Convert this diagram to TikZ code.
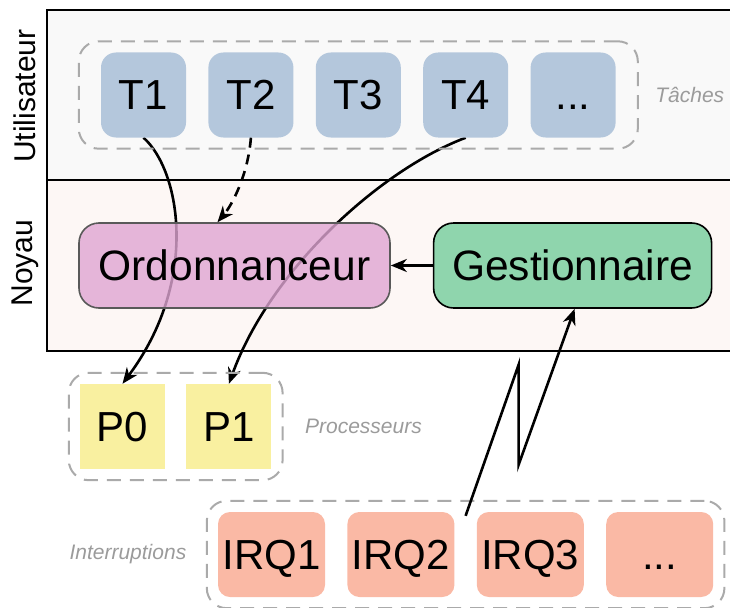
\documentclass[tikz,border=0pt]{standalone}
\usepackage{fontspec}
\setmainfont{Liberation Sans}
\usetikzlibrary{positioning, calc, arrows.meta, fit}

\definecolor{taskblue}{RGB}{180,199,220}
\definecolor{ordpink}{RGB}{223,165,211}
\definecolor{gestgreen}{RGB}{143,213,173}
\definecolor{cpuyellow}{RGB}{249,240,160}
\definecolor{irqsalmon}{RGB}{250,185,165}
\definecolor{usergray}{RGB}{249,249,249}
\definecolor{kernpink}{RGB}{253,247,245}
\definecolor{dashgray}{RGB}{170,170,170}
\definecolor{labelgray}{RGB}{155,155,155}

\pgfdeclarelayer{back}
\pgfdeclarelayer{wires}
\pgfsetlayers{back,wires,main}

\begin{document}
\begin{tikzpicture}[
  x=1pt, y={(0pt,-1pt)},
  %% task boxes (user space)
  taskbox/.style={
    rectangle, rounded corners=15pt, fill=taskblue,
    minimum width=85pt, minimum height=85pt, inner sep=0pt,
    text height=30pt, text depth=0pt,
    font=\fontsize{42pt}{48pt}\selectfont
  },
  %% processor boxes
  cpubox/.style={
    rectangle, fill=cpuyellow,
    minimum width=85pt, minimum height=85pt, inner sep=0pt,
    text height=30pt, text depth=0pt,
    font=\fontsize{42pt}{48pt}\selectfont
  },
  %% interrupt boxes
  irqbox/.style={
    rectangle, rounded corners=12pt, fill=irqsalmon,
    minimum width=107pt, minimum height=85pt, inner sep=0pt,
    text height=30pt, text depth=0pt,
    font=\fontsize{42pt}{48pt}\selectfont
  },
  %% kernel components
  kbox/.style={
    rectangle, rounded corners=20pt, line width=1.6pt,
    minimum height=85pt, inner sep=0pt,
    font=\fontsize{42.5pt}{48pt}\selectfont
  },
  %% dashed groups
  group/.style={
    rectangle, rounded corners=20pt, draw=dashgray, line width=2pt,
    dash pattern=on 14pt off 9pt
  },
  grouplabel/.style={text=labelgray, font=\fontsize{21pt}{25pt}\selectfont\itshape},
  %% bands
  lane/.style={draw=black, line width=2pt},
  lanelabel/.style={rotate=90, anchor=center, font=\fontsize{30pt}{36pt}\selectfont},
  %% arrows
  arr/.style={-{Stealth[length=16pt,width=13pt,inset=5pt]}, line width=2.6pt}
]

\useasboundingbox (0,0) rectangle (730,607);

%% ================================================================
%% BANDS
%% ================================================================
\begin{pgfonlayer}{back}
\draw[lane, fill=usergray] (47,10) rectangle (740,180);
\draw[lane, fill=kernpink] (47,180) rectangle (740,351);
\end{pgfonlayer}

\node[lanelabel] (lbluser) at (25,96) {Utilisateur};
\node[lanelabel] (lblkern) at (25,263) {Noyau};

%% ================================================================
%% TASKS
%% ================================================================
\node[taskbox] (t1) at (143.5,95) {T1};
\node[taskbox, right=22pt of t1] (t2) {T2};
\node[taskbox, right=22pt of t2] (t3) {T3};
\node[taskbox, right=22pt of t3] (t4) {T4};
\node[taskbox, right=22pt of t4] (t5) {...};

\node[group, inner xsep=22pt, inner ysep=11pt, fit=(t1)(t5)] (tasks) {};
\node[grouplabel, right=13pt of tasks] (lbltasks) {Tâches};

%% ================================================================
%% KERNEL
%% ================================================================
\node[kbox, fill=ordpink, fill opacity=0.8, text opacity=1,
      draw=black!65, minimum width=311pt] (ord) at (234.5,265.5) {Ordonnanceur};
\node[kbox, fill=gestgreen, draw=black, minimum width=278pt,
      right=42pt of ord] (gest) {Gestionnaire};

%% ================================================================
%% PROCESSORS
%% ================================================================
\node[cpubox] (p0) at (122.5,426.5) {P0};
\node[cpubox, right=21pt of p0] (p1) {P1};

\node[group, inner sep=11pt, fit=(p0)(p1)] (cpus) {};
\node[grouplabel, right=18pt of cpus] (lblcpus) {Processeurs};

%% ================================================================
%% INTERRUPTS
%% ================================================================
\node[irqbox] (irq1) at (271.5,554.5) {IRQ1};
\node[irqbox, right=22pt of irq1] (irq2) {IRQ2};
\node[irqbox, right=22pt of irq2] (irq3) {IRQ3};
\node[irqbox, right=22pt of irq3] (irq4) {...};

\node[group, inner sep=11pt, fit=(irq1)(irq4)] (irqs) {};
\node[grouplabel, left=16pt of irqs] (lblirqs) {Interruptions};

%% ================================================================
%% CONNECTORS
%% ================================================================
\begin{pgfonlayer}{wires}
\draw[arr] (t1.south) .. controls (180,170) and (200,280) .. (p0.north);
\draw[arr] (t4.south) .. controls (380,170) and (270,270) .. (p1.north);
\end{pgfonlayer}

\draw[arr, dash pattern=on 10pt off 7pt] (t2.south) .. controls (248,175) and (232,205) .. ([xshift=-17pt]ord.north);
\draw[arr] (gest.west) -- (ord.east);

%% lightning from the interrupt
\coordinate (irqout) at ([xshift=-11pt,yshift=-4pt]irq3.north west);
\draw[arr, line join=miter] (irqout) -- ++(53,-151) -- ++(0,100) -- ([xshift=2pt]gest.south);

\end{tikzpicture}
\end{document}
